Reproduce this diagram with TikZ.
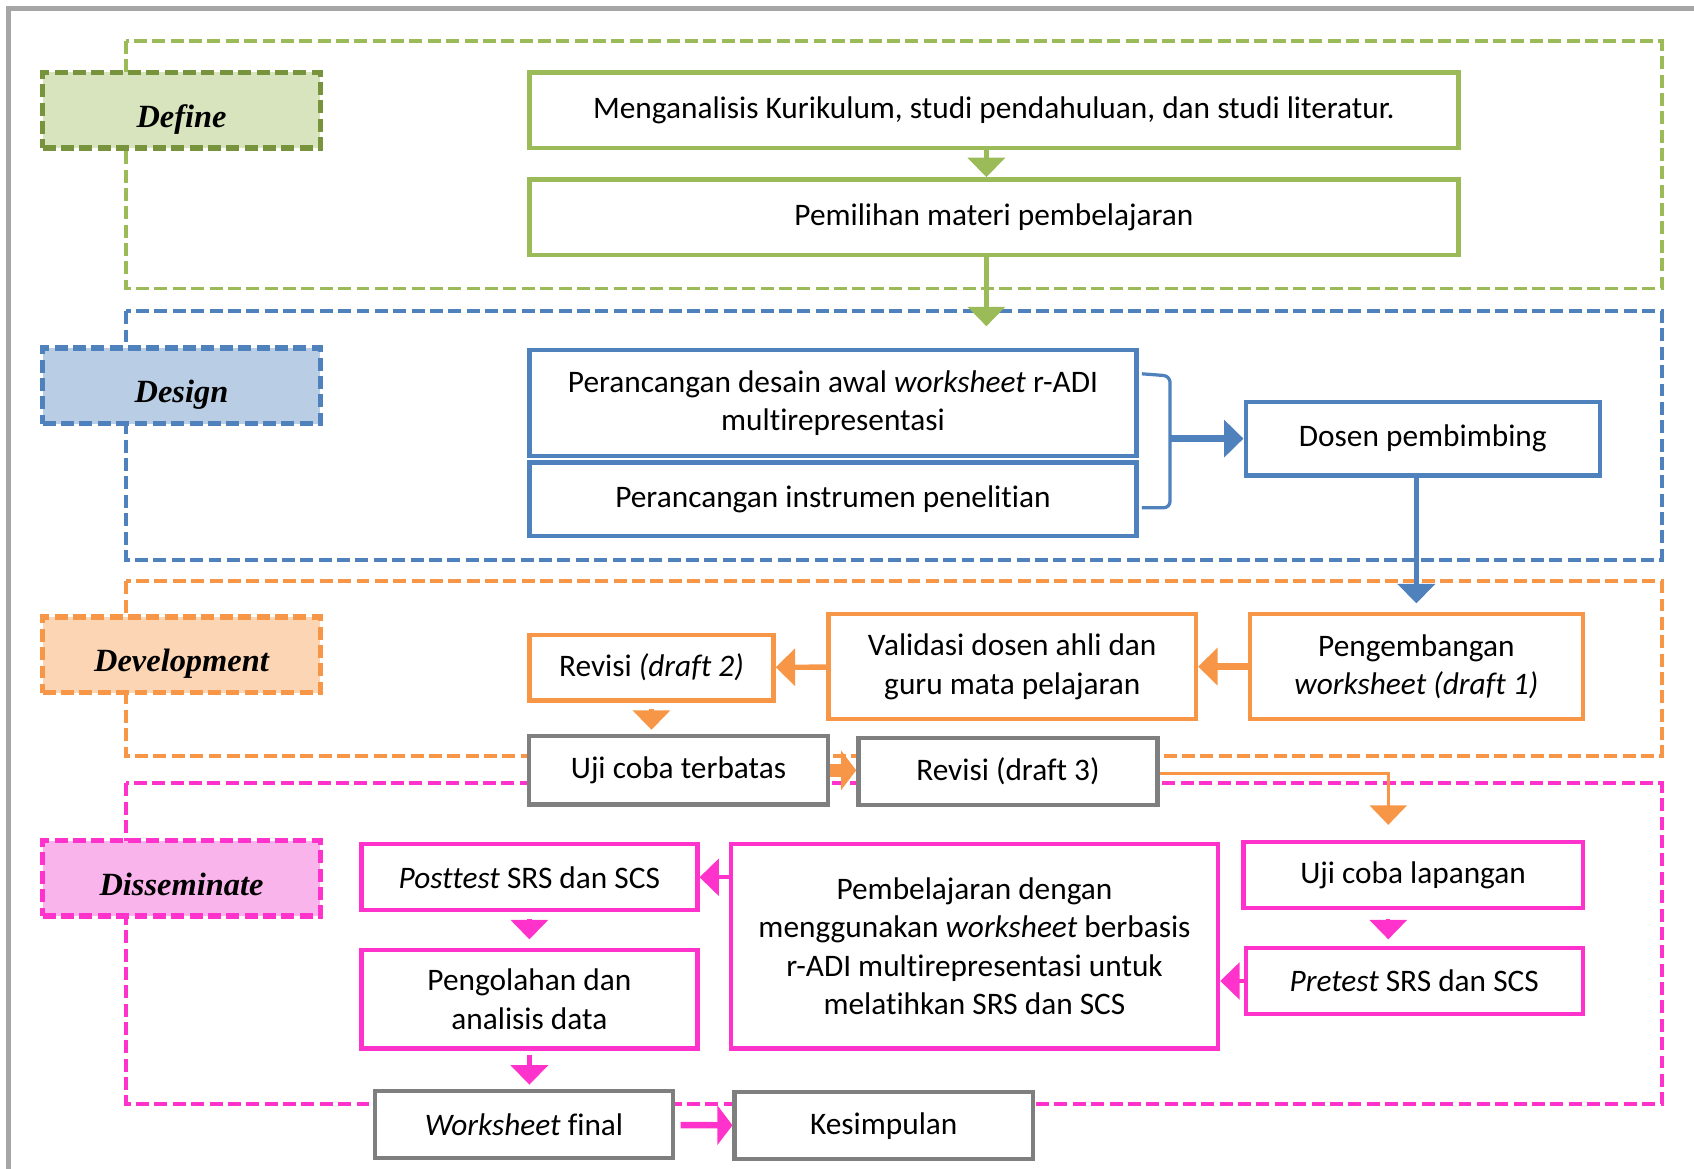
\documentclass[tikz,border=0pt]{standalone}
\usepackage{fontspec}
\setmainfont{Carlito}[Ligatures=NoCommon]
\newfontfamily\stagefont{Liberation Serif}
\usetikzlibrary{arrows.meta}
\definecolor{greenLine}{HTML}{9BBB59}
\definecolor{greenDark}{HTML}{77933C}
\definecolor{greenFill}{HTML}{D7E4BD}
\definecolor{blueLine}{HTML}{4F81BD}
\definecolor{blueFill}{HTML}{B9CDE5}
\definecolor{orangeLine}{HTML}{F79646}
\definecolor{orangeFill}{HTML}{FCD5B5}
\definecolor{pinkLine}{HTML}{FF33CC}
\definecolor{pinkFill}{HTML}{F9B5EB}
\definecolor{grayLine}{HTML}{7F7F7F}
\definecolor{frameGray}{HTML}{A6A6A6}

\begin{document}
\begin{tikzpicture}[x=0.5pt, y=-0.5pt,
  font=\fontsize{14.5}{17.8}\selectfont,
  box/.style={draw, line width=2pt, fill=white, inner sep=0pt, align=center},
  stage/.style={draw, line width=2.5pt, dash pattern=on 6pt off 2.5pt, inner sep=0pt,
    minimum width=128.5pt, minimum height=35pt, text height=16pt, text depth=0pt,
    font={\stagefont\fontsize{15}{18}\selectfont\bfseries\itshape}},
  frame/.style={line width=1.8pt, dash pattern=on 6pt off 2.5pt},
  arr/.style={line width=2pt, -{Triangle[width=17pt,length=9pt]}}]
  \useasboundingbox (0,0) rectangle (1568,1082);
  \draw[frameGray, line width=2pt] (8,1082) -- (8,8) -- (1568,8);
  % stage frames
  \draw[frame, greenLine] (117,38) rectangle (1538,267);
  \draw[frame, blueLine] (117,288) rectangle (1538,518);
  \draw[frame, orangeLine] (117,538) rectangle (1538,700);
  \draw[frame, pinkLine] (117,725) rectangle (1538,1022);
  % stage labels
  \node[stage, draw=greenDark, fill=greenFill] (define) at (168,102) {Define};
  \node[stage, draw=blueLine, fill=blueFill] (design) at (168,357) {Design};
  \node[stage, draw=orangeLine, fill=orangeFill] (development) at (168,606) {Development};
  \node[stage, draw=pinkLine, fill=pinkFill] (disseminate) at (168,813) {Disseminate};
  % define
  \node[box, draw=greenLine, minimum width=430pt, minimum height=35pt] (kurikulum) at (920,102) {Menganalisis Kurikulum, studi pendahuluan, dan studi literatur.};
  \node[box, draw=greenLine, minimum width=430pt, minimum height=35pt] (materi) at (920,201) {Pemilihan materi pembelajaran};
  \coordinate (designtop) at (913,302);
  % design
  \node[box, draw=blueLine, minimum width=281pt, minimum height=49pt] (desain) at (771,373) {Perancangan desain awal \textit{worksheet} r-ADI\\multirepresentasi};
  \node[box, draw=blueLine, minimum width=281pt, minimum height=34pt] (instrumen) at (771,462) {Perancangan instrumen penelitian};
  \node[box, draw=blueLine, minimum width=164pt, minimum height=34pt] (dosen) at (1317,406) {Dosen pembimbing};
  \coordinate (kurung) at (1083,406);
  % development
  \node[box, draw=orangeLine, minimum width=154pt, minimum height=48.5pt] (draft1) at (1311,617) {Pengembangan\\\textit{worksheet (draft 1)}};
  \node[box, draw=orangeLine, minimum width=170pt, minimum height=48.5pt] (validasi) at (937,617) {Validasi dosen ahli dan\\guru mata pelajaran};
  \node[box, draw=orangeLine, minimum width=113pt, minimum height=30.5pt] (draft2) at (603,618) {Revisi \textit{(draft 2)}};
  \node[box, draw=grayLine, minimum width=138.5pt, minimum height=31.5pt] (terbatas) at (628,713) {Uji coba terbatas};
  \node[box, draw=grayLine, minimum width=138.5pt, minimum height=31pt] (draft3) at (933,714) {Revisi (draft 3)};
  % disseminate
  \node[box, draw=pinkLine, minimum width=157pt, minimum height=30.5pt] (lapangan) at (1308,810) {Uji coba lapangan};
  \node[box, draw=pinkLine, minimum width=156pt, minimum height=30.5pt] (pretest) at (1309,908) {\textit{Pretest} SRS dan SCS};
  \node[box, draw=pinkLine, minimum width=225.5pt, minimum height=94.5pt] (pembelajaran) at (902,876) {Pembelajaran dengan\\menggunakan \textit{worksheet} berbasis\\r-ADI multirepresentasi untuk\\melatihkan SRS dan SCS};
  \node[box, draw=pinkLine, minimum width=155.5pt, minimum height=30.5pt] (posttest) at (490,812) {\textit{Posttest} SRS dan SCS};
  \node[box, draw=pinkLine, minimum width=155.5pt, minimum height=45.5pt] (pengolahan) at (490,925) {Pengolahan dan\\analisis data};
  \node[box, draw=grayLine, minimum width=138pt, minimum height=31pt] (final) at (485,1041) {\textit{Worksheet} final};
  \node[box, draw=grayLine, minimum width=138pt, minimum height=31pt] (kesimpulan) at (818,1042) {Kesimpulan};
  % connectors
  \draw[arr, greenLine] ([xshift=-3.5pt]kurikulum.south) -- ([xshift=-3.5pt]materi.north);
  \draw[arr, greenLine] ([xshift=-3.5pt]materi.south) -- (designtop);
  \draw[blueLine, line width=1.5pt, rounded corners=3pt] (1057,346) -- (1083,348) -- (1083,470) -- (1057,470);
  \draw[arr, blueLine, line width=3pt] (kurung) -- (dosen);
  \draw[arr, blueLine, line width=2.5pt, shorten >=4pt] (dosen.south -| draft1.north) -- (draft1.north);
  \draw[arr, orangeLine, line width=3pt] (draft1) -- (validasi);
  \draw[arr, orangeLine, line width=2.5pt] (validasi) -- (draft2);
  \draw[arr, orangeLine, shorten <=3pt, shorten >=2pt] (draft2.south) -- (draft2.south |- terbatas.north);
  \draw[orangeLine, line width=6pt, -{Triangle[width=18pt,length=7pt]}] (terbatas.east) -- (terbatas.east -| draft3.west);
  \draw[arr, orangeLine, line width=1.5pt, shorten >=7pt] ([yshift=-1pt]draft3.east) -| ([xshift=-11.5pt]lapangan.north);
  \draw[arr, pinkLine, shorten <=4pt, shorten >=3pt] ([xshift=-11.5pt]lapangan.south) -- ([xshift=-12pt]pretest.north);
  \draw[arr, pinkLine] (pretest) -- (pretest -| pembelajaran.east);
  \draw[arr, pinkLine] (pembelajaran.west |- posttest) -- (posttest);
  \draw[arr, pinkLine, shorten <=3pt, shorten >=4pt] (posttest) -- (pengolahan);
  \draw[arr, pinkLine, shorten <=2pt, shorten >=2pt] (pengolahan) -- (pengolahan.south |- final.north);
  \draw[pinkLine, line width=3pt, shorten <=2.5pt, -{Triangle[width=18pt,length=7pt]}] (final) -- (kesimpulan);
\end{tikzpicture}
\end{document}
